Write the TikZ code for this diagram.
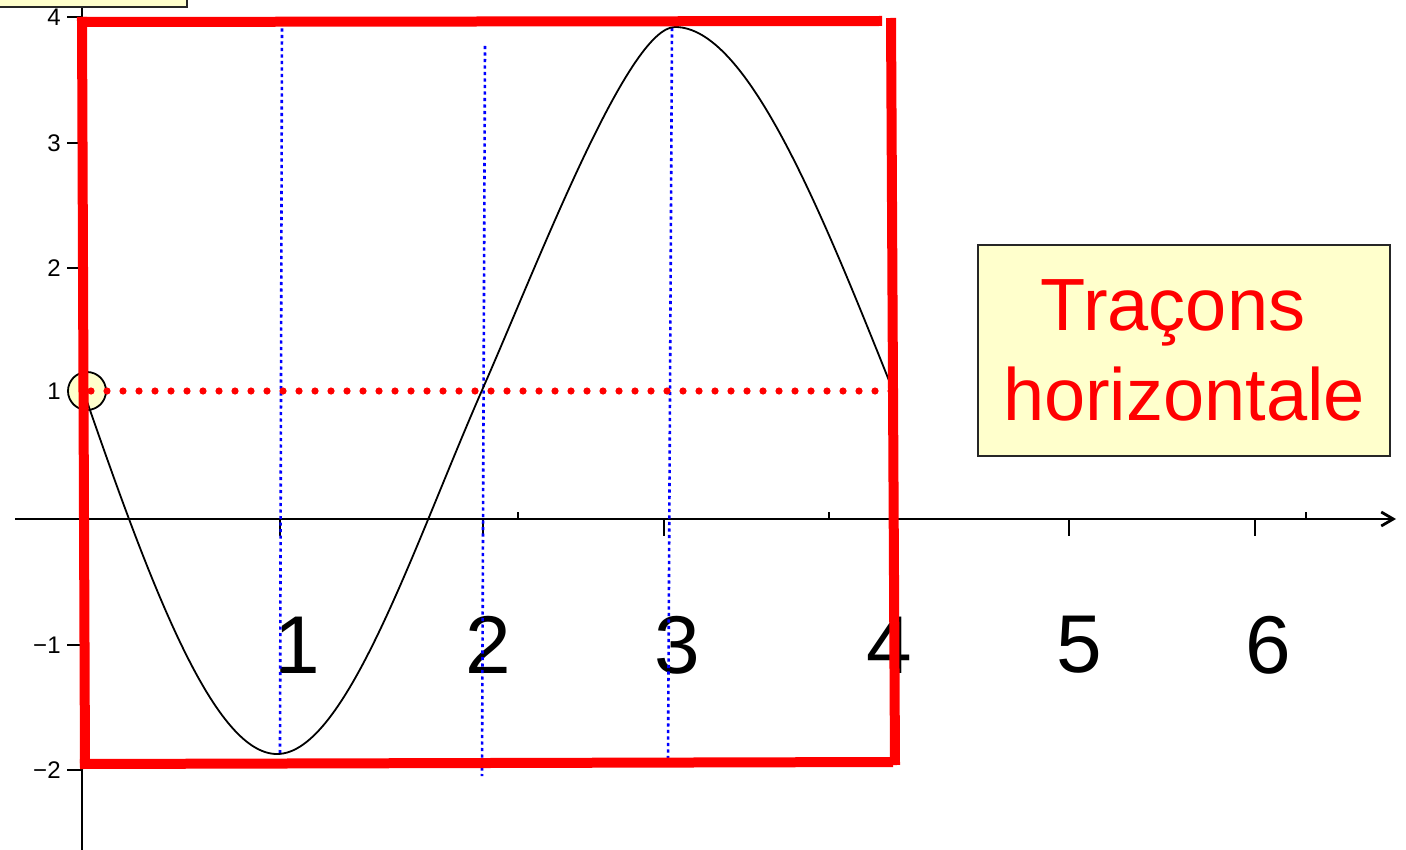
\documentclass[tikz,border=0pt]{standalone}
\usepackage{fontspec}
\setmainfont{Liberation Sans}
\usetikzlibrary{arrows.meta}
\definecolor{paleyellow}{HTML}{FFFFCC}
\definecolor{boxred}{HTML}{FF0000}
\definecolor{dotblue}{HTML}{0000FF}
\tikzset{
  axisline/.style={black, line width=1.4pt},
  ticksty/.style={black, line width=1pt},
  ylab/.style={anchor=east, inner sep=0pt, font=\fontsize{12}{14}\selectfont},
  biglab/.style={inner sep=0pt, font=\fontsize{41}{48}\selectfont},
  bluedots/.style={dotblue, line width=1.3pt, dash pattern=on 1.6pt off 1.65pt},
  reddots/.style={boxred, line width=3.6pt, line cap=round, dash pattern=on 0pt off 8pt},
  rededge/.style={boxred, line width=5pt},
  curvesty/.style={black, line width=0.9pt},
  notebox/.style={fill=paleyellow, draw=black!85, line width=1pt},
}
\begin{document}
\begin{tikzpicture}[x=0.5pt,y=-0.5pt]
\useasboundingbox (0,0) rectangle (1406,850);
\fill[white] (0,0) rectangle (1406,850);
% axes
\coordinate (xs) at (15,519);
\coordinate (xe) at (1396,519);
\coordinate (ys) at (82,0);
\coordinate (ye) at (82,850);
\draw[axisline, -{Straight Barb[length=6pt,width=7pt]}] (xs) -- (xe);
\draw[axisline] (ys) -- (ye);
% x ticks
\foreach \tx in {280,483,664,1069,1255}
  \draw[ticksty] (\tx,519) -- (\tx,536);
\foreach \tx in {518,829,1306}
  \draw[ticksty] (\tx,512) -- (\tx,519);
% y ticks and labels
\foreach \ty/\lab in {17/4,143/3,268/2,391/1,645/{−1},770/{−2}}{
  \draw[ticksty] (67,\ty) -- (82,\ty);
  \node[ylab] at (61,\ty) {\lab};
}
% big x labels
\node[biglab] (n1) at (297,645) {1};
\node[biglab] (n2) at (488,645) {2};
\node[biglab] (n3) at (677,645) {3};
\node[biglab] (n4) at (889,645) {4};
\node[biglab] (n5) at (1079,645) {5};
\node[biglab] (n6) at (1268,645) {6};
% blue dotted verticals
\draw[bluedots] (282,22) -- (280,753);
\draw[bluedots] (485,46) -- (482,776);
\draw[bluedots] (672,28) -- (668,760);
% marked point
\draw[fill=paleyellow, draw=black, line width=0.9pt] (87,391) circle[radius=19];
% curve
\coordinate (cA) at (82,387);
\coordinate (cB) at (277,754);
\coordinate (cD) at (483,388);
\coordinate (cE) at (675,27);
\coordinate (cF) at (892,388);
\draw[curvesty] (cA) .. controls (147,575) and (212,754) .. (cB)
  .. controls (346,754) and (414,545) .. (cD)
  .. controls (538,263) and (628,27) .. (cE)
  .. controls (747,27) and (820,208) .. (cF);
% red dotted horizontal
\draw[reddots] (91,391) -- (891,391);
% red frame (separate strokes)
\draw[rededge] (77,22) -- (882,21);
\draw[rededge] (82,17) -- (85,768);
\draw[rededge] (891,18) -- (895,765);
\draw[rededge] (80,764) -- (893,762);
% note box
\node[notebox, minimum width=206pt, minimum height=105.5pt, inner sep=0pt,
      text=boxred, align=center, font=\fontsize{37}{45}\selectfont] (note) at (1184,350.5)
  {Traçons\rule{0.3em}{0pt}\\horizontale};
% top-left box (cut off)
\draw[notebox] (-6,-6) rectangle (187,7);
\end{tikzpicture}
\end{document}
